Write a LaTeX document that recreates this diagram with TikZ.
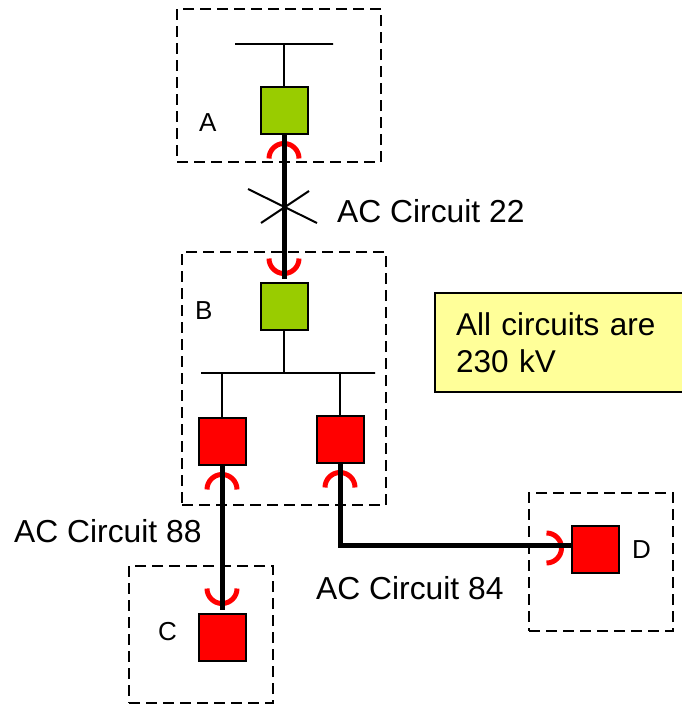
\documentclass[tikz,border=0pt]{standalone}
\usepackage{fontspec}
\setmainfont{Liberation Sans}
\usetikzlibrary{positioning,calc}
\definecolor{relaygreen}{HTML}{99CC00}
\definecolor{notefill}{HTML}{FFFF99}
\tikzset{
block/.style = {draw, line width=2pt, inner sep=0pt, minimum size=47pt},
greenblock/.style = {block, fill=relaygreen},
redblock/.style = {block, fill=red},
zone/.style = {draw, line width=2.2pt, dash pattern=on 11pt off 6pt, inner sep=0pt},
bus/.style = {draw, fill=black, line width=1.6pt, inner sep=0pt, minimum height=0pt},
thinline/.style = {line width=2pt},
circuit/.style = {line width=5pt},
trip/.style = {red, line width=5pt},
circuitlabel/.style = {anchor=base west, inner sep=0pt, font=\fontsize{31.8pt}{37pt}\selectfont},
stationlabel/.style = {anchor=base west, inner sep=0pt, font=\fontsize{26pt}{30pt}\selectfont},
note/.style = {draw, fill=notefill, line width=2pt, anchor=west, inner xsep=21pt, inner ysep=0pt,
  text width=234pt, minimum height=99pt, align=left, font=\fontsize{31.5pt}{37pt}\selectfont}
}
\begin{document}
\begin{tikzpicture}[x=1pt, y=1pt, node distance=196pt]
  \useasboundingbox (0,0) rectangle (681,-704);
  \node [zone, minimum width=204pt, minimum height=153pt] (zonea) at (279,-85.5)  {};
  \node [zone, minimum width=204pt, minimum height=253pt] (zoneb) at (284,-378.5) {};
  \node [zone, minimum width=144pt, minimum height=137pt] (zonec) at (201,-634.5) {};
  \node [zone, minimum width=144pt, minimum height=138pt] (zoned) at (601,-562)   {};

  \node [greenblock] (blocka) at (284,-110) {};
  \node [greenblock, below of=blocka]                                  (blockb) {};
  \node [redblock, below of=blockb, node distance=135pt, xshift=-62pt] (blockc) {};
  \node [redblock, right of=blockc, node distance=118pt, yshift=2pt]   (blockd) {};
  \node [redblock, below of=blockc]                                    (blocke) {};
  \node [redblock, right of=blockd, node distance=255pt, yshift=-110pt] (blockf) {};

  \node [bus, minimum width=98pt, above of=blocka, node distance=66pt]             (busa) {};
  \node [bus, minimum width=174pt, below of=blockb, node distance=67pt, xshift=4pt] (busb) {};
  \coordinate (tapf) at ($(blockf.west)+(0,4)$);

  \draw [thinline] (blocka.north) -- (busa.south -| blocka.north);
  \draw [thinline] (blockb.south) -- (busb.north -| blockb.south);
  \draw [thinline] (blockc.north) -- (busb.south -| blockc.north);
  \draw [thinline] (blockd.north) -- (busb.south -| blockd.north);

  \draw [trip] ($(blocka.south)+(-15,-24)$) arc (180:0:15pt);
  \draw [trip] ($(blockb.north)+(-15,23)$)  arc (180:360:15pt);
  \draw [trip] ($(blockc.south)+(-15,-24)$) arc (180:0:15pt);
  \draw [trip] ($(blockd.south)+(-15,-24)$) arc (180:0:15pt);
  \draw [trip] ($(blocke.north)+(-15,24)$)  arc (180:360:15pt);
  \draw [trip] ($(blockf.west)+(-24,16)$)   arc (90:-90:15pt);

  \draw [circuit, shorten >=3pt] (blocka.south) -- (blockb.north);
  \draw [circuit, shorten >=3pt] (blockc.south) -- (blocke.north);
  \draw [circuit] (blockd.south) |- (tapf);

  \coordinate (cross) at (284,-206);
  \draw [thinline] ($(cross)+(-36,17)$) -- ($(cross)+(33,-17)$);
  \draw [thinline] ($(cross)+(-23,-17)$) -- ($(cross)+(25,15)$);

  \node [circuitlabel] (labela) at (337,-222) {AC Circuit 22};
  \node [circuitlabel] (labelb) at (14,-542)  {AC Circuit 88};
  \node [circuitlabel] (labelc) at (316,-599) {AC Circuit 84};
  \node [stationlabel] (stationa) at (199,-131) {A};
  \node [stationlabel] (stationb) at (195,-319) {B};
  \node [stationlabel] (stationc) at (158,-640) {C};
  \node [stationlabel] (stationd) at (632,-558) {D};

  \node [note] (notebox) at (434,-342.5) {All circuits are\\230 kV};
\end{tikzpicture}
\end{document}
